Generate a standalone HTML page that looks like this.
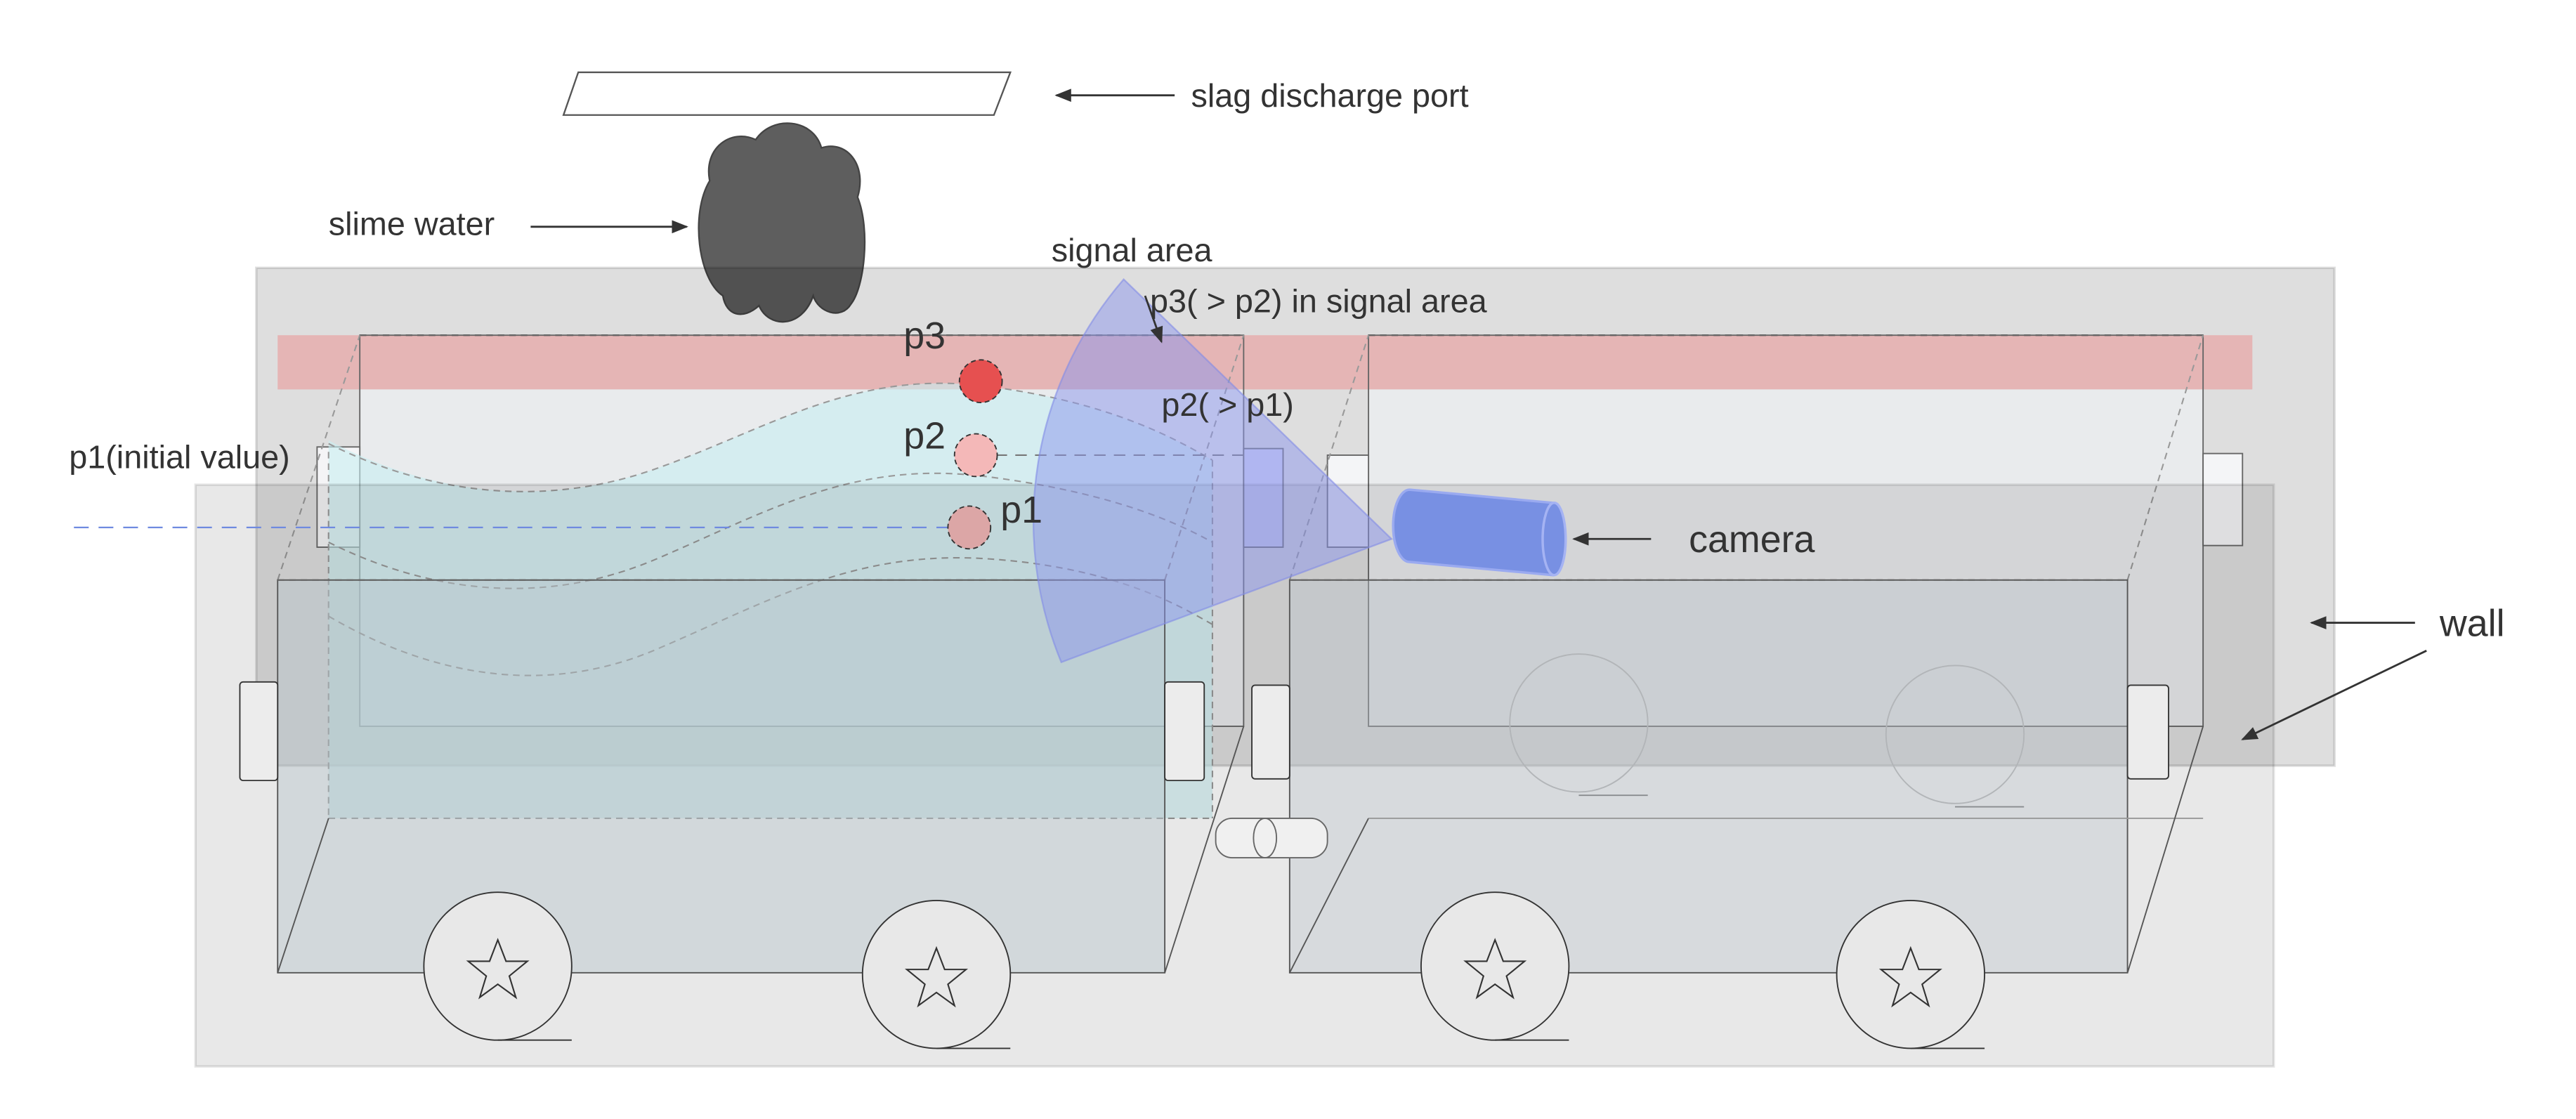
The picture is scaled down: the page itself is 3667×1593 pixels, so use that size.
<!DOCTYPE html>
<html><head><meta charset="utf-8"><style>
html,body{margin:0;padding:0;background:#fff;}
svg{display:block;}
text{font-family:"Liberation Sans",sans-serif;fill:#333;}
</style></head><body>
<svg width="3667" height="1593" viewBox="0 0 1568 681" preserveAspectRatio="none" xmlns="http://www.w3.org/2000/svg">
<defs>
<marker id="ah" markerWidth="10" markerHeight="8" refX="9" refY="4" orient="auto" markerUnits="userSpaceOnUse">
<path d="M0,0 L10,4 L0,8 Z" fill="#333"/></marker>
</defs>
<rect width="1568" height="681" fill="#fff"/>
<polygon points="352,44 615,44 605,70 343,70" fill="#fff" stroke="#555" stroke-width="1"/>
<line x1="715" y1="58" x2="643" y2="58" stroke="#333" stroke-width="1.2" marker-end="url(#ah)"/>
<text x="725" y="65" font-size="20">slag discharge port</text>
<path d="M440,180 C425,170 420,130 432,110 C428,90 445,78 460,85 C470,70 495,72 500,90 C515,85 528,100 522,120 C530,140 526,175 518,185 C512,195 498,190 495,180 C488,200 468,200 462,186 C452,195 442,192 440,180 Z" fill="#5e5e5e" stroke="#444" stroke-width="1"/>
<text x="200" y="143" font-size="20">slime water</text>
<line x1="323" y1="138" x2="418" y2="138" stroke="#333" stroke-width="1.2" marker-end="url(#ah)"/>
<rect x="156" y="163" width="1265" height="303" fill="rgba(0,0,0,0.13)" stroke="rgba(0,0,0,0.12)" stroke-width="1.5"/>
<rect x="169" y="204" width="1202" height="33" fill="rgba(240,120,120,0.4)"/>
<rect x="219" y="237" width="538" height="205" fill="rgba(240,244,247,0.6)"/>
<rect x="833" y="237" width="508" height="205" fill="rgba(240,244,247,0.6)"/>
<rect x="219" y="204" width="538" height="238" fill="none" stroke="#666" stroke-width="0.8"/>
<rect x="833" y="204" width="508" height="238" fill="none" stroke="#666" stroke-width="0.8"/>
<line x1="219" y1="204" x2="757" y2="204" stroke="#666" stroke-dasharray="4,3"/>
<line x1="833" y1="204" x2="1341" y2="204" stroke="#666" stroke-dasharray="4,3"/>
<rect x="193" y="272" width="26" height="61" fill="#f4f4f6" stroke="#666" stroke-width="0.8"/>
<rect x="757" y="273" width="24" height="60" fill="#d4d6f6" stroke="#666" stroke-width="0.8"/>
<rect x="808" y="277" width="25" height="56" fill="#f4f5f7" stroke="#666" stroke-width="0.8"/>
<rect x="1341" y="276" width="24" height="56" fill="#f4f5f7" stroke="#666" stroke-width="0.8"/>
<path d="M200,268 C260,300 330,310 400,285 C470,260 520,225 600,235 C680,245 720,270 738,280 L738,498 L200,498 Z" fill="rgba(200,238,242,0.6)"/>
<g fill="none" stroke="#999" stroke-dasharray="4,3" stroke-width="0.9">
<path d="M200,270 C260,300 330,310 400,285 C470,260 520,225 600,235 C680,245 720,270 738,280"/>
<path d="M200,330 C260,360 330,370 400,340 C470,310 520,280 600,290 C680,300 720,320 738,330"/>
<path d="M200,375 C260,410 330,425 400,395 C470,365 520,335 600,340 C680,345 720,370 738,380"/>
<line x1="200" y1="275" x2="200" y2="498"/>
<line x1="738" y1="280" x2="738" y2="498"/>
<line x1="200" y1="498" x2="738" y2="498"/>
<line x1="169" y1="353" x2="219" y2="204"/>
<line x1="709" y1="353" x2="757" y2="204"/>
<line x1="785" y1="353" x2="833" y2="204"/>
<line x1="1295" y1="353" x2="1341" y2="204"/>
</g>
<rect x="119" y="295" width="1265" height="354" fill="rgba(0,0,0,0.09)" stroke="rgba(0,0,0,0.1)" stroke-width="1.5"/>
<circle cx="961" cy="440" r="42" fill="none" stroke="#aaa" stroke-width="0.8"/>
<line x1="961" y1="484" x2="1003" y2="484" stroke="#666" stroke-width="0.8"/>
<circle cx="1190" cy="447" r="42" fill="none" stroke="#aaa" stroke-width="0.8"/>
<line x1="1190" y1="491" x2="1232" y2="491" stroke="#666" stroke-width="0.8"/>
<rect x="169" y="353" width="540" height="239" fill="rgba(185,198,203,0.45)" stroke="#555" stroke-width="0.8"/>
<rect x="785" y="353" width="510" height="239" fill="rgba(190,198,205,0.4)" stroke="#555" stroke-width="0.8"/>
<line x1="169" y1="353" x2="709" y2="353" stroke="#666" stroke-dasharray="4,3"/>
<line x1="785" y1="353" x2="1295" y2="353" stroke="#666" stroke-dasharray="4,3"/>
<g stroke="#555" stroke-width="0.8">
<line x1="169" y1="592" x2="200" y2="498"/>
<line x1="709" y1="592" x2="757" y2="442"/>
<line x1="785" y1="592" x2="833" y2="498"/>
<line x1="833" y1="498" x2="1341" y2="498" stroke="#999"/>
<line x1="1295" y1="592" x2="1341" y2="442"/>
</g>
<rect x="146" y="415" width="23" height="60" rx="2" fill="#ececec" stroke="#333" stroke-width="0.8"/>
<rect x="709" y="415" width="24" height="60" rx="2" fill="#ececec" stroke="#333" stroke-width="0.8"/>
<rect x="762" y="417" width="23" height="57" rx="2" fill="#ececec" stroke="#333" stroke-width="0.8"/>
<rect x="1295" y="417" width="25" height="57" rx="2" fill="#ececec" stroke="#333" stroke-width="0.8"/>
<rect x="740" y="498" width="68" height="24" rx="10" fill="#f0f0f0" stroke="#666" stroke-width="0.8"/>
<ellipse cx="770" cy="510" rx="7" ry="12" fill="none" stroke="#666" stroke-width="0.8"/>
<g fill="#e8e8e8" stroke="#333" stroke-width="0.8">
<circle cx="303" cy="588" r="45"/><circle cx="570" cy="593" r="45"/>
<circle cx="910" cy="588" r="45"/><circle cx="1163" cy="593" r="45"/>
</g>
<g stroke="#333" stroke-width="0.8">
<line x1="303" y1="633" x2="348" y2="633"/><line x1="570" y1="638" x2="615" y2="638"/>
<line x1="910" y1="633" x2="955" y2="633"/><line x1="1163" y1="638" x2="1208" y2="638"/>
</g>
<g fill="none" stroke="#333" stroke-width="0.9">
<polygon transform="translate(303,591)" points="0,-19 5,-6 18,-6 7,3 11,16 0,8 -11,16 -7,3 -18,-6 -5,-6"/>
<polygon transform="translate(570,596)" points="0,-19 5,-6 18,-6 7,3 11,16 0,8 -11,16 -7,3 -18,-6 -5,-6"/>
<polygon transform="translate(910,591)" points="0,-19 5,-6 18,-6 7,3 11,16 0,8 -11,16 -7,3 -18,-6 -5,-6"/>
<polygon transform="translate(1163,596)" points="0,-19 5,-6 18,-6 7,3 11,16 0,8 -11,16 -7,3 -18,-6 -5,-6"/>
</g>
<line x1="45" y1="321" x2="580" y2="321" stroke="#6f8ae0" stroke-dasharray="9,6" stroke-width="1"/>
<line x1="606" y1="277" x2="757" y2="277" stroke="#777" stroke-dasharray="7,5" stroke-width="0.9"/>
<g stroke="#333" stroke-dasharray="3,2" stroke-width="0.8">
<circle cx="597" cy="232" r="13" fill="#e65050"/>
<circle cx="594" cy="277" r="13" fill="#f4b8b8"/>
<circle cx="590" cy="321" r="13" fill="#dca6a6"/>
</g>
<path d="M847,328 L684,170 A225,225 0 0 0 646,403 Z" fill="rgba(140,150,235,0.5)" stroke="rgba(130,140,230,0.6)" stroke-width="1"/>
<path d="M858,298 L945,306 L945,350 L858,342 A10,22 0 0 1 858,298 Z" fill="#7890e3" stroke="#9aaaf0" stroke-width="1.5"/>
<ellipse cx="946" cy="328" rx="7" ry="22" fill="#7890e3" stroke="#a5b3f3" stroke-width="1.5"/>
<line x1="1005" y1="328" x2="958" y2="328" stroke="#333" stroke-width="1.2" marker-end="url(#ah)"/>
<text x="1028" y="336" font-size="23">camera</text>
<text x="1485" y="387" font-size="23">wall</text>
<line x1="1470" y1="379" x2="1407" y2="379" stroke="#333" stroke-width="1.2" marker-end="url(#ah)"/>
<line x1="1477" y1="396" x2="1365" y2="450" stroke="#333" stroke-width="1.2" marker-end="url(#ah)"/>
<text x="640" y="159" font-size="20">signal area</text>
<line x1="697" y1="180" x2="707" y2="208" stroke="#333" stroke-width="1.2" marker-end="url(#ah)"/>
<text x="700" y="190" font-size="20">p3( &gt; p2) in signal area</text>
<text x="707" y="253" font-size="20">p2( &gt; p1)</text>
<text x="42" y="285" font-size="20">p1(initial value)</text>
<text x="550" y="212" font-size="23">p3</text>
<text x="550" y="273" font-size="23">p2</text>
<text x="609" y="318" font-size="23">p1</text>
</svg>
</body></html>
